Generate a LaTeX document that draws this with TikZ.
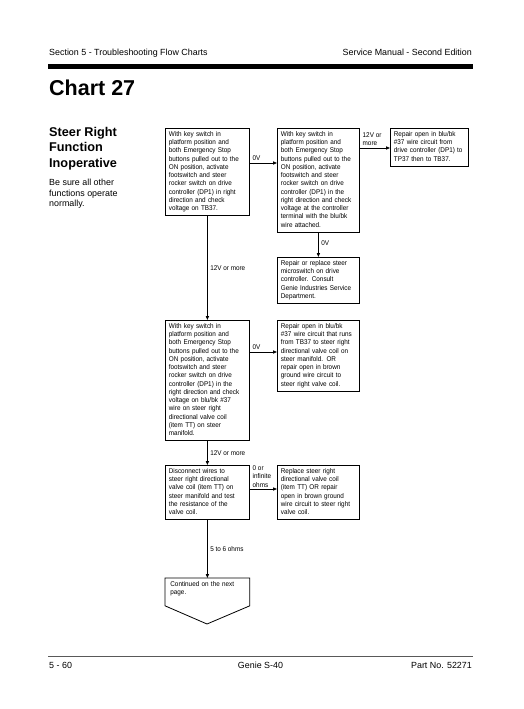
\documentclass[tikz,border=0pt]{standalone}
\usepackage{fontspec}
\setmainfont{Liberation Sans}
\newfontfamily\boxfont[FakeStretch=0.92]{Liberation Sans}
\usetikzlibrary{arrows.meta}
\tikzset{
  flowbox/.style={draw, line width=0.8pt, anchor=north west, inner xsep=3.5pt, inner ysep=2.25pt,
    align=left, font=\boxfont\fontsize{6.9}{8.25}\selectfont},
  lab/.style={inner sep=0.5pt, align=left, font=\boxfont\fontsize{6.9}{8.25}\selectfont},
  arr/.style={line width=0.8pt, -{Triangle[length=4pt,width=3.2pt]}},
  hdr/.style={inner sep=0pt, font=\fontsize{8.9}{10.5}\selectfont}
}
\begin{document}
\begin{tikzpicture}[x=1pt,y=-1pt]
\useasboundingbox (0,0) rectangle (523,709);
% header
\node[hdr, anchor=base west] (hl) at (49,56) {Section 5 - Troubleshooting Flow Charts};
\node[hdr, anchor=base east] (hr) at (472,56) {Service Manual - Second Edition};
\fill (48,64) rectangle (473,69);
\node[inner sep=0pt, anchor=base west, font=\bfseries\fontsize{21.5}{24}\selectfont] (title) at (49,95) {Chart 27};
\node[inner sep=0pt, anchor=north west, align=left, font=\bfseries\fontsize{12.7}{15.5}\selectfont] (sub) at (49,126.6) {Steer Right\\Function\\Inoperative};
\node[inner sep=0pt, anchor=north west, align=left, font=\fontsize{8.9}{10.5}\selectfont] (note) at (49,179.3) {Be sure all other\\functions operate\\normally.};
% boxes
\node[flowbox, text width=77pt] (A) at (165,128) {\strut With key switch in\\platform position and\\both Emergency Stop\\buttons pulled out to the\\ON position, activate\\footswitch and steer\\rocker switch on drive\\controller (DP1) in right\\direction and check\\voltage on TB37.\strut};
\node[flowbox, text width=75pt] (B) at (277,128) {\strut With key switch in\\platform position and\\both Emergency Stop\\buttons pulled out to the\\ON position, activate\\footswitch and steer\\rocker switch on drive\\controller (DP1) in the\\right direction and check\\voltage at the controller\\terminal with the blu/bk\\wire attached.\strut};
\node[flowbox, text width=71pt] (C) at (390,128) {\strut Repair open in blu/bk\\\#37 wire circuit from\\drive controller (DP1) to\\TP37 then to TB37.\strut};
\node[flowbox, text width=75pt] (D) at (277,257) {\strut Repair or replace steer\\microswitch on drive\\controller. Consult\\Genie Industries Service\\Department.\strut};
\node[flowbox, text width=77pt] (E) at (165,320) {\strut With key switch in\\platform position and\\both Emergency Stop\\buttons pulled out to the\\ON position, activate\\footswitch and steer\\rocker switch on drive\\controller (DP1) in the\\right direction and check\\voltage on blu/bk \#37\\wire on steer right\\directional valve coil\\(item TT) on steer\\manifold.\strut};
\node[flowbox, text width=75pt] (F) at (277,320) {\strut Repair open in blu/bk\\\#37 wire circuit that runs\\from TB37 to steer right\\directional valve coil on\\steer manifold. OR\\repair open in brown\\ground wire circuit to\\steer right valve coil.\strut};
\node[flowbox, text width=77pt] (G) at (165,465) {\strut Disconnect wires to\\steer right directional\\valve coil (item TT) on\\steer manifold and test\\the resistance of the\\valve coil.\strut};
\node[flowbox, text width=75pt] (H) at (277,465) {\strut Replace steer right\\directional valve coil\\(item TT) OR repair\\open in brown ground\\wire circuit to steer right\\valve coil.\strut};
\node[flowbox, draw=none, inner xsep=5pt, text width=74pt] (I) at (165,578) {\strut Continued on the next\\page.\strut};
\coordinate (Ise) at ([yshift=-6pt]I.south east);
\coordinate (Isw) at ([yshift=-6pt]I.south west);
\coordinate (Itip) at (207,624);
\draw[line width=0.8pt, line join=miter] (I.north west) -- (I.north east) -- (Ise) -- (Itip) -- (Isw) -- cycle;
% connectors
\draw[arr] ([yshift=-35pt]A.north east) -- ([yshift=-35pt]B.north west)
  node[lab, pos=0, anchor=south west, xshift=2pt, yshift=1.5pt] (l1) {0V};
\draw[arr] ([yshift=-20pt]B.north east) -- ([yshift=-20pt]C.north west)
  node[lab, pos=0, anchor=south west, xshift=2pt, yshift=1.5pt] (l2) {12V or\\more};
\draw[arr] (B.south) -- (D.north)
  node[lab, pos=0.45, anchor=west, xshift=2pt] (l3) {0V};
\draw[arr] (A.south) -- (E.north)
  node[lab, pos=0.5, anchor=west, xshift=2pt] (l4) {12V or more};
\draw[arr] ([yshift=-32pt]E.north east) -- ([yshift=-32pt]F.north west)
  node[lab, pos=0, anchor=south west, xshift=2pt, yshift=1.5pt] (l5) {0V};
\draw[arr] (E.south) -- (G.north)
  node[lab, pos=0.5, anchor=west, xshift=2pt] (l6) {12V or more};
\draw[arr] ([yshift=-24pt]G.north east) -- ([yshift=-24pt]H.north west)
  node[lab, pos=0, anchor=south west, xshift=2pt, yshift=1pt] (l7) {0 or\\infinite\\ohms};
\draw[arr] (G.south) -- (I.north)
  node[lab, pos=0.5, anchor=west, xshift=2pt] (l8) {5 to 6 ohms};
% footer
\draw[line width=1pt, black!65] (48,656) -- (473,656);
\node[hdr, anchor=base west] (fl) at (49,668.7) {5 - 60};
\node[hdr, anchor=base] (fc) at (260.5,668.7) {Genie S-40};
\node[hdr, anchor=base east] (fr) at (472,668.7) {Part No. 52271};
\end{tikzpicture}
\end{document}
